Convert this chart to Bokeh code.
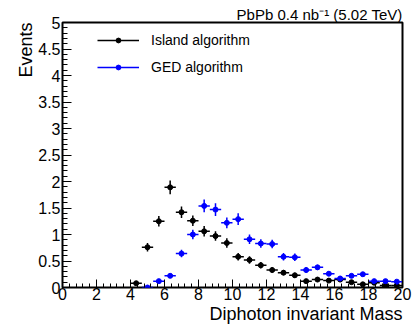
import numpy as np
from bokeh.plotting import figure
from bokeh.models import (Range1d, FixedTicker, NumeralTickFormatter, Title,
                          Legend, LegendItem, ColumnDataSource)
from bokeh.embed import file_html
from bokeh.resources import INLINE

nan = float("nan")

# ---------------- data ----------------
x_min, x_max, n_bins = 0.0, 20.0, 30
bin_edges = np.linspace(x_min, x_max, n_bins + 1)

island_values = [nan, nan, nan, nan, nan, nan,
                 0.08, 0.76, 1.25, 1.89, 1.42, 1.26, 1.06, 0.97, 0.84, 0.58,
                 0.52, 0.42, 0.33, 0.28, 0.23, 0.12, 0.15, 0.13, 0.15, 0.10,
                 0.06, 0.09, 0.04, 0.04]
island_errors = [nan, nan, nan, nan, nan, nan,
                 0.03, 0.08, 0.10, 0.13, 0.11, 0.10, 0.10, 0.09, 0.09, 0.07,
                 0.07, 0.06, 0.05, 0.05, 0.05, 0.03, 0.04, 0.03, 0.04, 0.03,
                 0.02, 0.03, 0.02, 0.02]

ged_values = [nan, nan, nan, nan, nan, nan, nan,
              0.00, 0.12, 0.22, 0.64, 1.00, 1.54, 1.47, 1.22, 1.29,
              0.91, 0.83, 0.82, 0.58, 0.57, 0.33, 0.38, 0.26, 0.17, 0.22,
              0.25, 0.12, 0.12, 0.11]
ged_errors = [nan, nan, nan, nan, nan, nan, nan,
              0.00, 0.03, 0.04, 0.07, 0.09, 0.12, 0.12, 0.10, 0.11,
              0.09, 0.08, 0.08, 0.07, 0.07, 0.05, 0.05, 0.04, 0.04, 0.04,
              0.04, 0.03, 0.03, 0.03]

x_ticks = [0, 2, 4, 6, 8, 10, 12, 14, 16, 18, 20]
y_ticks = [0, 0.5, 1, 1.5, 2, 2.5, 3, 3.5, 4, 4.5, 5]

x_title = "Diphoton invariant Mass"
y_title = "Events"
top_text = "PbPb 0.4 nb\u207b\u00b9 (5.02 TeV)"
series_names = ["Island algorithm", "GED algorithm"]
series_colors = ["black", "#0000ff"]

FONT = "Liberation Sans"


def make_source(values, errors):
    v = np.array(values, dtype=float)
    e = np.array(errors, dtype=float)
    lo, hi = bin_edges[:-1], bin_edges[1:]
    c = 0.5 * (lo + hi)
    m = ~np.isnan(v)
    return ColumnDataSource(dict(x=c[m], y=v[m], x0=lo[m], x1=hi[m],
                                 y0=(v - e)[m], y1=(v + e)[m]))


p = figure(width=412, height=326, output_backend="svg", toolbar_location=None,
           x_range=Range1d(x_min, x_max), y_range=Range1d(0, 5),
           min_border_left=62, min_border_right=10,
           min_border_top=22, min_border_bottom=39)
p.background_fill_color = "white"
p.border_fill_color = "white"
p.outline_line_color = "black"
p.outline_line_width = 2
p.grid.visible = False

# axes
p.xaxis.ticker = FixedTicker(ticks=x_ticks,
                             minor_ticks=[round(0.4 * i, 2) for i in range(51)])
p.yaxis.ticker = FixedTicker(ticks=y_ticks,
                             minor_ticks=[round(0.1 * i, 2) for i in range(51)])
p.yaxis.formatter = NumeralTickFormatter(format="0.[0]")
for ax in (p.xaxis, p.yaxis):
    ax.axis_line_color = None
    ax.major_tick_out = 0
    ax.minor_tick_out = 0
    ax.major_tick_line_color = "black"
    ax.minor_tick_line_color = "black"
    ax.major_tick_line_width = 1
    ax.minor_tick_line_width = 1
    ax.major_label_text_font = FONT
    ax.major_label_text_font_size = "16px"
    ax.major_label_text_color = "black"
p.xaxis.major_label_standoff = 0
p.yaxis.major_label_standoff = 2
p.xaxis.major_tick_in = 8
p.xaxis.minor_tick_in = 4
p.yaxis.major_tick_in = 9
p.yaxis.minor_tick_in = 5

title_style = dict(text_font=FONT, text_font_style="normal", text_color="black")
p.add_layout(Title(text=x_title, align="right", standoff=-2,
                   text_font_size="18px", **title_style), "below")
p.add_layout(Title(text=y_title, align="right", standoff=0,
                   text_font_size="18px", **title_style), "left")
p.add_layout(Title(text=top_text, align="right", standoff=0,
                   text_font_size="15px", **title_style), "above")

# series
legend_items = []
for vals, errs, name, col in zip([island_values, ged_values],
                                 [island_errors, ged_errors],
                                 series_names, series_colors):
    src = make_source(vals, errs)
    h = p.segment("x0", "y", "x1", "y", source=src, line_color=col, line_width=1.5)
    p.segment("x", "y0", "x", "y1", source=src, line_color=col, line_width=1.5)
    s = p.scatter("x", "y", source=src, marker="circle", size=5,
                  fill_color=col, line_color=col)
    legend_items.append(LegendItem(label=name, renderers=[h, s]))

item_h = 16
legend = Legend(items=legend_items, location=(35, 247 - int(1.5 * item_h) - (27 - item_h)),
                glyph_width=42, glyph_height=12, label_height=item_h,
                spacing=27 - item_h, padding=0, margin=0, label_standoff=12,
                border_line_color=None, background_fill_alpha=0,
                label_text_font=FONT, label_text_font_size="14px",
                label_text_color="black")
p.add_layout(legend)

open("out.html", "w").write(file_html(p, INLINE))
